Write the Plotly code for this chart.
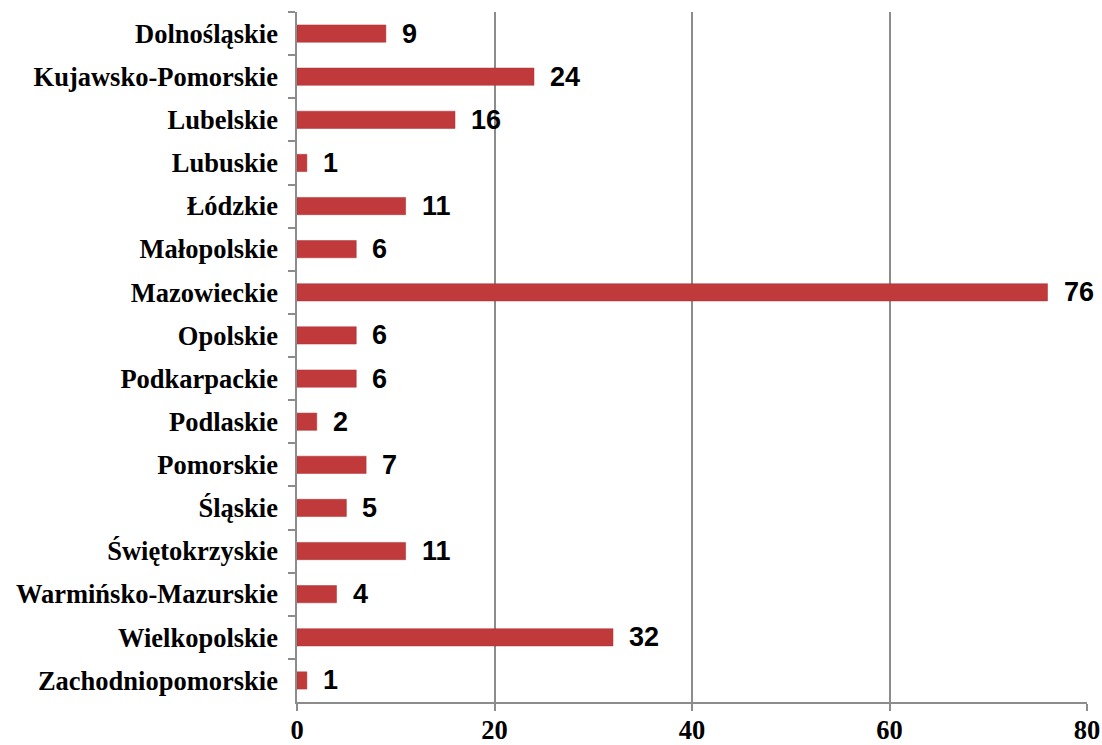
import plotly.graph_objects as go

regions = ["Dolnośląskie", "Kujawsko-Pomorskie", "Lubelskie", "Lubuskie", "Łódzkie",
           "Małopolskie", "Mazowieckie", "Opolskie", "Podkarpackie", "Podlaskie",
           "Pomorskie", "Śląskie", "Świętokrzyskie", "Warmińsko-Mazurskie",
           "Wielkopolskie", "Zachodniopomorskie"]
values = [9, 24, 16, 1, 11, 6, 76, 6, 6, 2, 7, 5, 11, 4, 32, 1]
x_ticks = [0, 20, 40, 60, 80]

fig = go.Figure()
fig.add_trace(go.Bar(
    x=values, y=regions, orientation="h", width=0.4,
    marker=dict(color="#C03A3B", line=dict(color="#A83032", width=0.5)),
    hoverinfo="x+y",
))
for v, r in zip(values, regions):
    fig.add_annotation(x=v, y=r, text=str(v), showarrow=False, xanchor="left",
                       xshift=14, yshift=0,
                       font=dict(family="Liberation Sans", size=27, color="black", weight="bold"))

fig.update_layout(
    width=1102, height=745,
    margin=dict(l=297, r=15, t=12, b=43, autoexpand=False),
    plot_bgcolor="white", paper_bgcolor="white",
    showlegend=False,
    xaxis=dict(range=[0, 80], tickvals=x_ticks, showgrid=True, gridcolor="#8C8C8C", gridwidth=1.5,
               showline=True, linecolor="#8C8C8C", linewidth=1.5, ticks="outside", ticklen=7,
               tickcolor="#8C8C8C", tickwidth=1.5, zeroline=False, automargin=False,
               tickfont=dict(family="Liberation Serif", size=26.5, color="black", weight="bold"),
               ticklabelstandoff=-4),
    yaxis=dict(autorange="reversed", showline=True, linecolor="#8C8C8C", linewidth=1.5,
               ticks="outside", ticklen=7, tickcolor="#8C8C8C", tickwidth=1.5, tickson="boundaries",
               showgrid=False, automargin=False,
               tickfont=dict(family="Liberation Serif", size=26.5, color="black", weight="bold"),
               ticklabelstandoff=12),
)
fig.write_html("out.html", config={"displayModeBar": False},
               post_script="document.body.style.margin='0';document.body.style.padding='0';document.body.style.overflow='hidden';")
